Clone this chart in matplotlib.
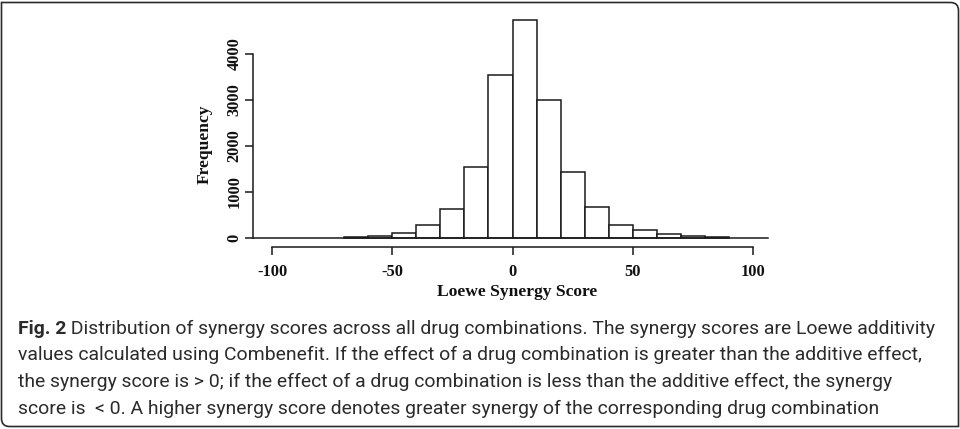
import matplotlib
matplotlib.use('Agg')
import matplotlib.pyplot as plt
from matplotlib.path import Path
from matplotlib.patches import PathPatch

# ---------------- data ----------------
bin_lefts = [-70, -60, -50, -40, -30, -20, -10, 0, 10, 20, 30, 40, 50, 60, 70, 80]
bin_width = 10
counts = [20, 43, 95, 270, 624, 1537, 3537, 4740, 2993, 1421, 674, 285, 165, 72, 40, 15]
x_ticks = [-100, -50, 0, 50, 100]
y_ticks = [0, 1000, 2000, 3000, 4000]
x_label = "Loewe Synergy Score"
y_label = "Frequency"
caption_bold = "Fig. 2"
caption_lines = [
    " Distribution of synergy scores across all drug combinations. The synergy scores are Loewe additivity",
    "values calculated using Combenefit. If the effect of a drug combination is greater than the additive effect,",
    "the synergy score is > 0; if the effect of a drug combination is less than the additive effect, the synergy",
    "score is  < 0. A higher synergy score denotes greater synergy of the corresponding drug combination",
]

W, H = 960, 429
fig = plt.figure(figsize=(W / 100, H / 100), dpi=100)
fig.patch.set_facecolor('white')

# background overlay in pixel coordinates
bg = fig.add_axes([0, 0, 1, 1], zorder=0)
bg.set_xlim(0, W)
bg.set_ylim(H, 0)
bg.axis('off')

# rounded border (top-right and bottom-left corners rounded)
r = 8
L, R, T, Bt = 1.5, 958.5, 2.5, 426.5
verts = [(L, T), (R - r, T), (R, T), (R, T + r), (R, Bt), (L + r, Bt), (L, Bt), (L, Bt - r), (L, T), (L, T)]
codes = [Path.MOVETO, Path.LINETO, Path.CURVE3, Path.CURVE3, Path.LINETO, Path.LINETO,
         Path.CURVE3, Path.CURVE3, Path.LINETO, Path.CLOSEPOLY]
bg.add_patch(PathPatch(Path(verts, codes), facecolor='none', edgecolor='#2a2a2a', lw=1.2))

# ---------------- chart ----------------
ax_left_px, ax_right_px = 252.9, 772.1
ax_bottom_px, ax_top_px = 246.5, 10.9
ax = fig.add_axes([ax_left_px / W, (H - ax_bottom_px) / H,
                   (ax_right_px - ax_left_px) / W, (ax_bottom_px - ax_top_px) / H], zorder=1)
ax.patch.set_alpha(0)
ax.set_xlim(-108, 108)
ax.set_ylim(-190, 4930)

lc = '#1a1a1a'
ax.bar(bin_lefts, counts, width=bin_width, align='edge', facecolor='white',
       edgecolor=lc, linewidth=1.1)
ax.axhline(0, xmin=0, xmax=0.993, color=lc, lw=1.1)

for s in ['top', 'right']:
    ax.spines[s].set_visible(False)
ax.spines['left'].set_bounds(y_ticks[0], y_ticks[-1])
ax.spines['bottom'].set_bounds(x_ticks[0], x_ticks[-1])
for s in ['left', 'bottom']:
    ax.spines[s].set_color(lc)
    ax.spines[s].set_linewidth(1.1)

ax.set_xticks(x_ticks)
ax.set_yticks(y_ticks)
tick_font = dict(family='Liberation Serif', weight='bold', size=11.8)
ax.set_xticklabels([str(v) for v in x_ticks], fontdict=tick_font)
ax.set_yticklabels([str(v) for v in y_ticks], fontdict=tick_font, rotation=90, va='center')
ax.tick_params(axis='x', length=6, width=1.1, color=lc, pad=6.6, labelcolor='#111111')
ax.tick_params(axis='y', length=6, width=1.1, color=lc, pad=1.6, labelcolor='#111111')

fig.text(517.5 / W, (H - 291.7) / H, x_label, family='Liberation Serif', weight='bold',
         size=12.6, ha='center', va='center', color='#111111')
fig.text(205 / W, (H - 144) / H, y_label, family='Liberation Serif', weight='bold',
         size=12.6, ha='center', va='center', rotation=90, color='#111111')

# ---------------- caption ----------------
cap_font = ['Roboto', 'DejaVu Sans']
cap_color = '#2b2b2b'
x0 = 18
baselines = [334, 360.5, 387, 413.5]
target_right = 933

fig.canvas.draw()
renderer = fig.canvas.get_renderer()


def width_px(t):
    return t.get_window_extent(renderer).width


trial = 13.0
tb = bg.text(0, 0, caption_bold, family=cap_font, weight='bold', size=trial)
tr = bg.text(0, 0, caption_lines[0], family=cap_font, size=trial)
wtot = width_px(tb) + width_px(tr)
tb.remove(); tr.remove()
size = trial * (target_right - x0) / wtot

tb = bg.text(x0, baselines[0], caption_bold, family=cap_font, weight='bold', size=size,
             color=cap_color, va='baseline', ha='left')
fig.canvas.draw()
wb = width_px(tb)
bg.text(x0 + wb, baselines[0], caption_lines[0], family=cap_font, size=size,
        color=cap_color, va='baseline', ha='left')
for line, yb in zip(caption_lines[1:], baselines[1:]):
    bg.text(x0, yb, line, family=cap_font, size=size, color=cap_color, va='baseline', ha='left')

fig.savefig('out.png', dpi=100, facecolor='white')
